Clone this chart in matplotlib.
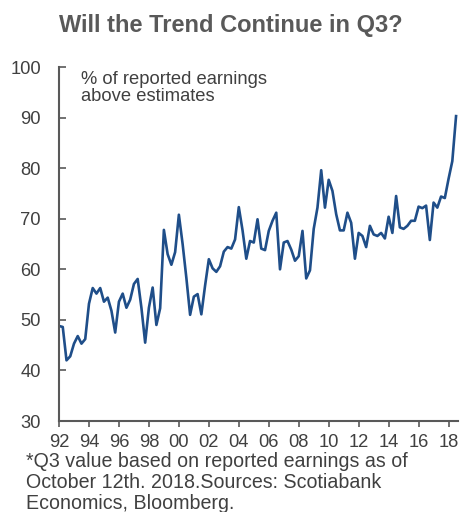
import numpy as np
import matplotlib as mpl
mpl.use('Agg')
import matplotlib.pyplot as plt

# quarterly share of reported earnings beating estimates, 1992Q1 - 2018Q3
start_year = 1992
pct_above = [48.8, 48.6, 42.0, 42.8, 45.3, 46.8, 45.3, 46.2, 53.2, 56.3,
             55.2, 56.3, 53.6, 54.4, 51.8, 47.5, 53.6, 55.2, 52.4, 54.0,
             57.1, 58.1, 52.4, 45.5, 52.4, 56.4, 49.0, 52.3, 67.8, 63.0,
             60.9, 63.4, 70.8, 65.0, 58.3, 51.0, 54.6, 55.1, 51.1, 56.8,
             62.0, 60.2, 59.5, 60.6, 63.5, 64.4, 64.1, 65.9, 72.3, 67.7,
             62.1, 65.6, 65.3, 69.9, 64.1, 63.8, 67.6, 69.6, 71.2, 60.0,
             65.3, 65.6, 63.9, 61.7, 62.6, 67.6, 58.2, 59.8, 68.0, 72.2,
             79.6, 72.2, 77.7, 75.5, 70.9, 67.7, 67.7, 71.2, 69.2, 62.1,
             67.2, 66.6, 64.4, 68.6, 66.9, 66.6, 67.2, 66.1, 70.4, 67.2,
             74.5, 68.3, 68.0, 68.6, 69.6, 69.6, 72.4, 72.1, 72.6, 65.8,
             73.2, 72.2, 74.4, 74.1, 77.9, 81.4, 90.3]
tick_years = list(range(1992, 2019, 2))
tick_labels = ['%02d' % (y % 100) for y in tick_years]
y_ticks = [30, 40, 50, 60, 70, 80, 90, 100]

plt.rcParams['font.family'] = ['Liberation Sans', 'DejaVu Sans']
grey = '#595959'
text_col = '#404040'
fs = 13.2

x = start_year + np.arange(len(pct_above)) / 4.0

fig = plt.figure(figsize=(4.61, 5.12), dpi=100)
ax = fig.add_axes([0.128, 0.1777, 0.8655, 0.6913])

ax.plot(x, pct_above, color='#1f4e89', lw=1.9, solid_joinstyle='round')

ax.set_xlim(1992, 2018.63)
ax.set_ylim(30, 100)
ax.set_xticks(tick_years)
ax.set_xticklabels(tick_labels)
ax.set_yticks(y_ticks)

for s in ['top', 'right']:
	ax.spines[s].set_visible(False)
for s in ['left', 'bottom']:
	ax.spines[s].set_color(grey)
	ax.spines[s].set_linewidth(1.5)

ax.tick_params(axis='y', direction='in', length=5, width=1.2, color=grey,
               labelsize=fs, labelcolor=text_col, pad=13)
ax.tick_params(axis='x', direction='out', length=4, width=1.2, color=grey,
               labelsize=fs, labelcolor=text_col, pad=5)

ax.text(0.054, 0.99, '% of reported earnings\nabove estimates',
        transform=ax.transAxes, ha='left', va='top', fontsize=fs,
        color=text_col, linespacing=1.0)

fig.text(0.5, 0.95, 'Will the Trend Continue in Q3?', ha='center', va='center',
         fontsize=17, fontweight='bold', color=grey)

fig.text(0.056, 0.117, '*Q3 value based on reported earnings as of\n'
         'October 12th. 2018.Sources: Scotiabank\nEconomics, Bloomberg.',
         ha='left', va='top', fontsize=14.1, color=text_col, linespacing=1.13)

fig.savefig('out.png', dpi=100)
